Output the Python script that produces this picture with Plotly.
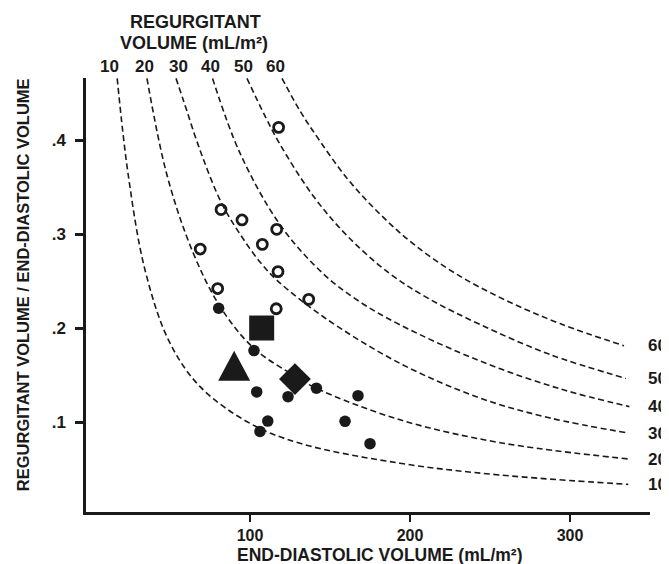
import plotly.graph_objects as go

# ---------------- data ----------------
rv_levels = [10, 20, 30, 40, 50, 60]

c10_edv = [17, 23.9, 34.4, 49.4, 68.8, 100, 131.3, 193.8, 256.3, 336.4]
c10_ratio = [.4656, .3628, .2617, .186, .1376, .0986, .0773, .0561, .0436, .0337]
c20_edv = [35.6, 48.1, 64.4, 81.9, 102.5, 128.1, 141.4, 193.8, 256.3, 337.1]
c20_ratio = [.4656, .3628, .2802, .2213, .1783, .1489, .1359, .1023, .078, .0606]
c30_edv = [53.75, 58.3, 68.75, 81.9, 93.75, 106.25, 116.7, 145.8, 193.75, 243.75, 287.5, 336.4]
c30_ratio = [.4656, .4426, .3894, .334, .30, .2702, .2511, .2120, .1624, .1255, .1043, .0883]
c40_edv = [76.6, 93.75, 118.75, 145.6, 168.75, 193.75, 243.75, 293.75, 337.1]
c40_ratio = [.4656, .386, .31, .258, .2278, .2034, .1649, .1353, .1164]
c50_edv = [98.1, 109.4, 118.75, 139.4, 160.6, 187.5, 212.5, 243.75, 287.5, 335]
c50_ratio = [.4656, .4255, .3954, .3408, .2983, .2577, .2305, .2038, .1718, .1464]
c60_edv = [120, 131.25, 139.4, 160.6, 181.25, 201.9, 229.4, 260.6, 293.75, 333.75]
c60_ratio = [.4656, .431, .4096, .3594, .3212, .2897, .257, .2289, .2047, .1811]

open_edv = [117.9, 81.9, 95, 116.7, 68.9, 107.7, 117.5, 79.8, 136.7, 116.4]
open_ratio = [.4135, .326, .315, .305, .284, .289, .260, .242, .2305, .2205]

filled_edv = [80.4, 102.5, 104.2, 123.75, 141.5, 167.5, 111.1, 106.25, 159.4, 175]
filled_ratio = [.221, .176, .132, .127, .136, .128, .101, .090, .1007, .077]

square_edv = [107.3]
square_ratio = [.200]
diamond_edv = [128.1]
diamond_ratio = [.1457]
triangle_edv = [90.1]
triangle_ratio = [.1598]

x_tickvals = [100, 200, 300]
y_tickvals = [.1, .2, .3, .4]
y_ticktext = [".1", ".2", ".3", ".4"]

x_title = "END-DIASTOLIC VOLUME (mL/m²)"
y_title = "REGURGITANT VOLUME / END-DIASTOLIC VOLUME"
top_title = ["REGURGITANT", "VOLUME (mL/m²)"]

# ---------------- figure ----------------
INK = "#1a1a1a"
FONT = "Liberation Sans, Arial, Helvetica, sans-serif"
PAGE = 8                      # browser body margin that offsets the figure
W, H = 669 - PAGE, 564 - PAGE
ML, MR, MT, MB = 78, 19, 70, 52
PW, PH = W - ML - MR, H - MT - MB


def px2paper_x(px):
    return (px - PAGE - ML) / PW


def py2paper_y(py):
    return (H - MB - (py - PAGE)) / PH


curves = [
    (c10_edv, c10_ratio), (c20_edv, c20_ratio), (c30_edv, c30_ratio),
    (c40_edv, c40_ratio), (c50_edv, c50_ratio), (c60_edv, c60_ratio),
]

fig = go.Figure()
for lvl, (xs, ys) in zip(rv_levels, curves):
    fig.add_trace(go.Scatter(
        x=xs, y=ys, mode="lines", name=f"{lvl}",
        line=dict(color=INK, width=1.6, dash="6px,3.5px", shape="spline", smoothing=1.0),
        hoverinfo="skip", showlegend=False,
    ))

fig.add_trace(go.Scatter(
    x=open_edv, y=open_ratio, mode="markers", showlegend=False,
    marker=dict(symbol="circle-open", size=10, color=INK, line=dict(width=2.8, color=INK)),
))
fig.add_trace(go.Scatter(
    x=filled_edv, y=filled_ratio, mode="markers", showlegend=False,
    marker=dict(symbol="circle", size=11.5, color=INK, line=dict(width=0)),
))
fig.add_trace(go.Scatter(
    x=square_edv, y=square_ratio, mode="markers", showlegend=False,
    marker=dict(symbol="square", size=25, color=INK, line=dict(width=0)),
))
fig.add_trace(go.Scatter(
    x=diamond_edv, y=diamond_ratio, mode="markers", showlegend=False,
    marker=dict(symbol="diamond", size=24.5, color=INK, line=dict(width=0)),
))
# triangle: pixel-sized path anchored at the data point
for tx, ty in zip(triangle_edv, triangle_ratio):
    fig.add_shape(
        type="path", xref="x", yref="y", xsizemode="pixel", ysizemode="pixel",
        xanchor=tx, yanchor=ty, path="M-16,-15 L16,-15 L0,15 Z",
        fillcolor=INK, line=dict(width=0), layer="above",
    )

bold = dict(family=FONT, color=INK, weight="bold")

fig.update_layout(
    width=W, height=H,
    margin=dict(l=ML, r=MR, t=MT, b=MB),
    paper_bgcolor="white", plot_bgcolor="white",
    showlegend=False,
    xaxis=dict(
        range=[-2.5, 350], showgrid=False, zeroline=False,
        showline=True, linecolor=INK, linewidth=2.5,
        ticks="outside", ticklen=7, tickwidth=2, tickcolor=INK,
        tickvals=x_tickvals, ticktext=[str(v) for v in x_tickvals],
        tickfont=dict(size=16, **bold),
    ),
    yaxis=dict(
        range=[0.00426, 0.466], showgrid=False, zeroline=False,
        showline=True, linecolor=INK, linewidth=2.5,
        ticks="outside", ticklen=8, tickwidth=2.5, tickcolor=INK,
        tickvals=y_tickvals, ticktext=y_ticktext, ticklabelstandoff=6,
        tickfont=dict(size=17, **bold),
    ),
)

ann = []
ann.append(dict(text=x_title, xref="paper", yref="paper",
                x=px2paper_x(380), y=py2paper_y(554.5), xanchor="center", yanchor="middle",
                showarrow=False, font=dict(size=17.5, **bold)))
ann.append(dict(text=y_title, xref="paper", yref="paper", textangle=-90,
                x=px2paper_x(22.7), y=py2paper_y(284.5), xanchor="center", yanchor="middle",
                showarrow=False, font=dict(size=16.5, **bold)))
for line, (cx, cy) in zip(top_title, [(195, 22), (194, 42.5)]):
    ann.append(dict(text=line, xref="paper", yref="paper",
                    x=px2paper_x(cx), y=py2paper_y(cy), xanchor="center", yanchor="middle",
                    showarrow=False, font=dict(size=18, **bold)))
top_label_px = [109, 144.5, 178, 210.5, 243, 275.3]
for lvl, cx in zip(rv_levels, top_label_px):
    ann.append(dict(text=str(lvl), xref="paper", yref="paper",
                    x=px2paper_x(cx), y=py2paper_y(66.7), xanchor="center", yanchor="middle",
                    showarrow=False, font=dict(size=17, **bold)))
for lvl, (xs, ys) in zip(rv_levels, curves):
    ann.append(dict(text=str(lvl), xref="paper", yref="y",
                    x=px2paper_x(646), y=ys[-1], xanchor="left", yanchor="middle",
                    showarrow=False, font=dict(size=17, **bold)))
fig.update_layout(annotations=ann)

fig.write_html("out.html")
